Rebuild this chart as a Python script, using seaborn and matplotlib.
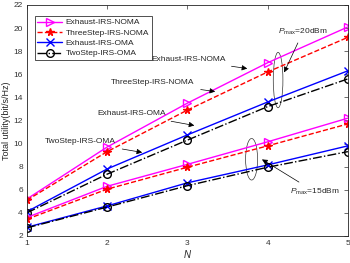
import numpy as np
import pandas as pd
import seaborn as sns
import matplotlib.pyplot as plt
from matplotlib.patches import Ellipse

## Data
N = [1, 2, 3, 4, 5]

# Pmax = 20 dBm
exh_noma_20 = [5.2, 9.7, 13.5, 17.0, 20.1]
three_noma_20 = [5.1, 9.3, 12.9, 16.2, 19.2]
exh_oma_20 = [4.1, 7.8, 10.75, 13.6, 16.3]
two_oma_20 = [4.0, 7.35, 10.3, 13.2, 15.6]

# Pmax = 15 dBm
exh_noma_15 = [3.6, 6.3, 8.2, 10.15, 12.2]
three_noma_15 = [3.45, 6.05, 7.95, 9.8, 11.7]
exh_oma_15 = [2.75, 4.6, 6.6, 8.15, 9.8]
two_oma_15 = [2.7, 4.5, 6.35, 7.95, 9.3]

names = ['Exhaust-IRS-NOMA', 'ThreeStep-IRS-NOMA', 'Exhaust-IRS-OMA', 'TwoStep-IRS-OMA']

sns.set_style('white')
plt.rcParams['font.family'] = ['Liberation Sans', 'DejaVu Sans']
plt.rcParams['font.sans-serif'] = ['Liberation Sans', 'DejaVu Sans']
plt.rcParams['mathtext.fontset'] = 'custom'
plt.rcParams['mathtext.rm'] = 'Liberation Sans'
plt.rcParams['mathtext.it'] = 'Liberation Sans:italic'
plt.rcParams['font.size'] = 6

fig = plt.figure(figsize=(3.5, 2.63), dpi=100)
ax = fig.add_axes([0.077, 0.103, 0.917, 0.878])

styles = [
    dict(color='magenta', linestyle='-', marker='>'),
    dict(color='red', linestyle='--', marker='*'),
    dict(color='blue', linestyle='-', marker='x'),
    dict(color='black', linestyle='-.', marker='o'),
]
groups = [
    [exh_noma_20, three_noma_20, exh_oma_20, two_oma_20],
    [exh_noma_15, three_noma_15, exh_oma_15, two_oma_15],
]

for g, grp in enumerate(groups):
    for i, vals in enumerate(grp):
        st = styles[i]
        mfc = 'none' if st['marker'] in ('>', 'o') else st['color']
        sns.lineplot(x=N, y=vals, ax=ax, color=st['color'], linestyle=st['linestyle'],
                     marker=st['marker'], markersize=5.5, markerfacecolor=mfc,
                     markeredgecolor=st['color'], markeredgewidth=1.0, linewidth=1.0,
                     label=names[i] if g == 0 else None, legend=False)

ax.set_xlim(1, 5)
ax.set_ylim(2, 22)
ax.set_xticks(N)
ax.set_yticks(np.arange(2, 23, 2))
ax.tick_params(direction='in', top=True, right=True, length=3, width=0.5,
               labelsize=6, pad=3, colors='#333333')
for s in ax.spines.values():
    s.set_linewidth(0.6)
    s.set_color('#222222')
ax.set_xlabel('N', style='italic', fontsize=7, labelpad=2)
ax.set_ylabel('Total utility(bit/s/Hz)', fontsize=6.5, labelpad=2)

leg = ax.legend(loc='upper left', bbox_to_anchor=(0.012, 0.97), fontsize=6,
                frameon=True, fancybox=False, edgecolor='black', handlelength=3.0,
                borderpad=0.3, labelspacing=0.3, handletextpad=0.4)
leg.get_frame().set_linewidth(0.6)

arrow = dict(arrowstyle='-|>', color='black', lw=0.5, mutation_scale=8)
ann = [
    ('Exhaust-IRS-NOMA', (3.01, 17.24), (3.78, 16.46)),
    ('ThreeStep-IRS-NOMA', (2.57, 15.25), (3.38, 14.47)),
    ('Exhaust-IRS-OMA', (2.30, 12.56), (3.12, 11.52)),
    ('TwoStep-IRS-OMA', (1.67, 10.14), (2.47, 9.19)),
]
for txt, xyt, xy in ann:
    ax.annotate(txt, xy=xy, xytext=xyt, ha='center', va='center', fontsize=6,
                arrowprops=arrow)

ax.annotate(r'$P_{\mathrm{max}}$=20dBm', xy=(4.19, 15.94), xytext=(4.44, 19.66),
            ha='center', va='center', fontsize=6, arrowprops=arrow)
ax.annotate(r'$P_{\mathrm{max}}$=15dBm', xy=(3.90, 8.75), xytext=(4.59, 5.81),
            ha='center', va='center', fontsize=6, arrowprops=arrow)

ax.add_patch(Ellipse((4.13, 15.5), 0.12, 4.8, fill=False, edgecolor='#333333', lw=0.5))
ax.add_patch(Ellipse((3.8, 8.64), 0.15, 3.6, fill=False, edgecolor='#333333', lw=0.5))

fig.savefig('out.png', dpi=100)
